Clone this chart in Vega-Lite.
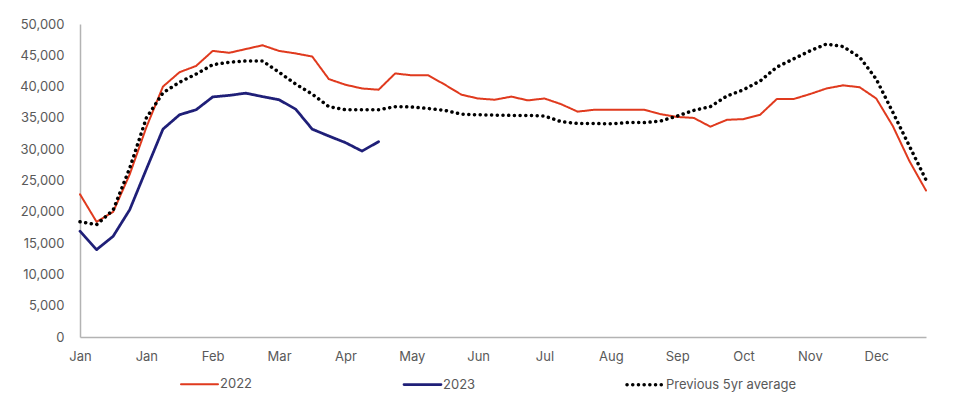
{
  "$schema": "https://vega.github.io/schema/vega-lite/v6.json",
  "autosize": "none",
  "width": 846,
  "height": 313,
  "padding": {"left": 80, "top": 24, "right": 42, "bottom": 65},
  "background": "white",
  "config": {"view": {"stroke": null}, "font": "Inter"},
  "data": {"values": [
    {"week":0,"series":"2022","value":22800},{"week":1,"series":"2022","value":18400},{"week":2,"series":"2022","value":20000},{"week":3,"series":"2022","value":26000},{"week":4,"series":"2022","value":33500},{"week":5,"series":"2022","value":40000},{"week":6,"series":"2022","value":42300},{"week":7,"series":"2022","value":43300},{"week":8,"series":"2022","value":45700},{"week":9,"series":"2022","value":45400},{"week":10,"series":"2022","value":46000},{"week":11,"series":"2022","value":46600},{"week":12,"series":"2022","value":45700},{"week":13,"series":"2022","value":45300},{"week":14,"series":"2022","value":44800},{"week":15,"series":"2022","value":41200},{"week":16,"series":"2022","value":40300},{"week":17,"series":"2022","value":39700},{"week":18,"series":"2022","value":39500},{"week":19,"series":"2022","value":42100},{"week":20,"series":"2022","value":41800},{"week":21,"series":"2022","value":41800},{"week":22,"series":"2022","value":40300},{"week":23,"series":"2022","value":38700},{"week":24,"series":"2022","value":38100},{"week":25,"series":"2022","value":37900},{"week":26,"series":"2022","value":38400},{"week":27,"series":"2022","value":37800},{"week":28,"series":"2022","value":38100},{"week":29,"series":"2022","value":37200},{"week":30,"series":"2022","value":36000},{"week":31,"series":"2022","value":36300},{"week":32,"series":"2022","value":36300},{"week":33,"series":"2022","value":36300},{"week":34,"series":"2022","value":36300},{"week":35,"series":"2022","value":35600},{"week":36,"series":"2022","value":35150},{"week":37,"series":"2022","value":35000},{"week":38,"series":"2022","value":33600},{"week":39,"series":"2022","value":34700},{"week":40,"series":"2022","value":34800},{"week":41,"series":"2022","value":35500},{"week":42,"series":"2022","value":38000},{"week":43,"series":"2022","value":38000},{"week":44,"series":"2022","value":38800},{"week":45,"series":"2022","value":39700},{"week":46,"series":"2022","value":40200},{"week":47,"series":"2022","value":39900},{"week":48,"series":"2022","value":38100},{"week":49,"series":"2022","value":33700},{"week":50,"series":"2022","value":28100},{"week":51,"series":"2022","value":23400},
    {"week":0,"series":"2023","value":16900},{"week":1,"series":"2023","value":13950},{"week":2,"series":"2023","value":16100},{"week":3,"series":"2023","value":20350},{"week":4,"series":"2023","value":26800},{"week":5,"series":"2023","value":33200},{"week":6,"series":"2023","value":35500},{"week":7,"series":"2023","value":36300},{"week":8,"series":"2023","value":38350},{"week":9,"series":"2023","value":38600},{"week":10,"series":"2023","value":38950},{"week":11,"series":"2023","value":38400},{"week":12,"series":"2023","value":37900},{"week":13,"series":"2023","value":36400},{"week":14,"series":"2023","value":33200},{"week":15,"series":"2023","value":32100},{"week":16,"series":"2023","value":31050},{"week":17,"series":"2023","value":29700},{"week":18,"series":"2023","value":31200},
    {"week":0,"series":"Previous 5yr average","value":18400},{"week":1,"series":"Previous 5yr average","value":17950},{"week":2,"series":"Previous 5yr average","value":20300},{"week":3,"series":"Previous 5yr average","value":27000},{"week":4,"series":"Previous 5yr average","value":35000},{"week":5,"series":"Previous 5yr average","value":39000},{"week":6,"series":"Previous 5yr average","value":40700},{"week":7,"series":"Previous 5yr average","value":42000},{"week":8,"series":"Previous 5yr average","value":43500},{"week":9,"series":"Previous 5yr average","value":43900},{"week":10,"series":"Previous 5yr average","value":44100},{"week":11,"series":"Previous 5yr average","value":44100},{"week":12,"series":"Previous 5yr average","value":42300},{"week":13,"series":"Previous 5yr average","value":40400},{"week":14,"series":"Previous 5yr average","value":38800},{"week":15,"series":"Previous 5yr average","value":36800},{"week":16,"series":"Previous 5yr average","value":36300},{"week":17,"series":"Previous 5yr average","value":36300},{"week":18,"series":"Previous 5yr average","value":36300},{"week":19,"series":"Previous 5yr average","value":36800},{"week":20,"series":"Previous 5yr average","value":36750},{"week":21,"series":"Previous 5yr average","value":36500},{"week":22,"series":"Previous 5yr average","value":36200},{"week":23,"series":"Previous 5yr average","value":35600},{"week":24,"series":"Previous 5yr average","value":35500},{"week":25,"series":"Previous 5yr average","value":35450},{"week":26,"series":"Previous 5yr average","value":35400},{"week":27,"series":"Previous 5yr average","value":35400},{"week":28,"series":"Previous 5yr average","value":35300},{"week":29,"series":"Previous 5yr average","value":34400},{"week":30,"series":"Previous 5yr average","value":34100},{"week":31,"series":"Previous 5yr average","value":34100},{"week":32,"series":"Previous 5yr average","value":34050},{"week":33,"series":"Previous 5yr average","value":34250},{"week":34,"series":"Previous 5yr average","value":34250},{"week":35,"series":"Previous 5yr average","value":34500},{"week":36,"series":"Previous 5yr average","value":35300},{"week":37,"series":"Previous 5yr average","value":36200},{"week":38,"series":"Previous 5yr average","value":36800},{"week":39,"series":"Previous 5yr average","value":38500},{"week":40,"series":"Previous 5yr average","value":39500},{"week":41,"series":"Previous 5yr average","value":40900},{"week":42,"series":"Previous 5yr average","value":43100},{"week":43,"series":"Previous 5yr average","value":44400},{"week":44,"series":"Previous 5yr average","value":45700},{"week":45,"series":"Previous 5yr average","value":46800},{"week":46,"series":"Previous 5yr average","value":46400},{"week":47,"series":"Previous 5yr average","value":44700},{"week":48,"series":"Previous 5yr average","value":41200},{"week":49,"series":"Previous 5yr average","value":35900},{"week":50,"series":"Previous 5yr average","value":30500},{"week":51,"series":"Previous 5yr average","value":25100}
  ]},
  "mark": {"type": "line", "strokeCap": "round", "strokeJoin": "round"},
  "encoding": {
    "x": {
      "field": "week", "type": "quantitative",
      "scale": {"domain": [0, 51], "nice": false, "zero": false},
      "axis": {
        "values": [0,4,8,12,16,20,24,28,32,36,40,44,48],
        "labelExpr": "['Jan','Jan','Feb','Mar','Apr','May','Jun','Jul','Aug','Sep','Oct','Nov','Dec'][round(datum.value/4)]",
        "title": null, "grid": false, "ticks": false,
        "domainColor": "#b3b3b3", "domainWidth": 1.5,
        "labelColor": "#595959", "labelFontSize": 13, "labelPadding": 13, "labelFlush": false
      }
    },
    "y": {
      "field": "value", "type": "quantitative",
      "scale": {"domain": [0, 50000], "nice": false},
      "axis": {
        "values": [0,5000,10000,15000,20000,25000,30000,35000,40000,45000,50000],
        "format": ",.0f", "title": null, "grid": false, "ticks": false,
        "domainColor": "#b3b3b3", "domainWidth": 1.5,
        "labelColor": "#595959", "labelFontSize": 13, "labelPadding": 16
      }
    },
    "color": {
      "field": "series", "type": "nominal",
      "scale": {"domain": ["2022","2023","Previous 5yr average"], "range": ["#e03a1e","#1f1f78","#000000"]},
      "legend": {
        "title": null, "orient": "none", "legendX": 99, "legendY": 340,
        "direction": "horizontal", "columns": 3, "gridAlign": "all", "columnPadding": 46,
        "symbolType": "stroke", "symbolSize": 1369, "labelOffset": 0,
        "labelFontSize": 13, "labelColor": "#595959",
        "encode": {"symbols": {"update": {"strokeCap": {"value": "round"}}}}
      }
    },
    "strokeDash": {
      "field": "series", "type": "nominal",
      "scale": {"domain": ["2022","2023","Previous 5yr average"], "range": [[1,0],[1,0],[0.1,5.6]]},
      "legend": {
        "title": null, "orient": "none", "legendX": 99, "legendY": 340,
        "direction": "horizontal", "columns": 3, "gridAlign": "all", "columnPadding": 46,
        "symbolType": "stroke", "symbolSize": 1369, "labelOffset": 0,
        "labelFontSize": 13, "labelColor": "#595959",
        "encode": {"symbols": {"update": {"strokeCap": {"value": "round"}}}}
      }
    },
    "strokeWidth": {
      "field": "series", "type": "nominal",
      "scale": {"domain": ["2022","2023","Previous 5yr average"], "range": [2, 3.5, 3.2]},
      "legend": {
        "title": null, "orient": "none", "legendX": 99, "legendY": 340,
        "direction": "horizontal", "columns": 3, "gridAlign": "all", "columnPadding": 46,
        "symbolType": "stroke", "symbolSize": 1369, "labelOffset": 0,
        "labelFontSize": 13, "labelColor": "#595959",
        "encode": {"symbols": {"update": {"strokeCap": {"value": "round"}}}}
      }
    }
  }
}
